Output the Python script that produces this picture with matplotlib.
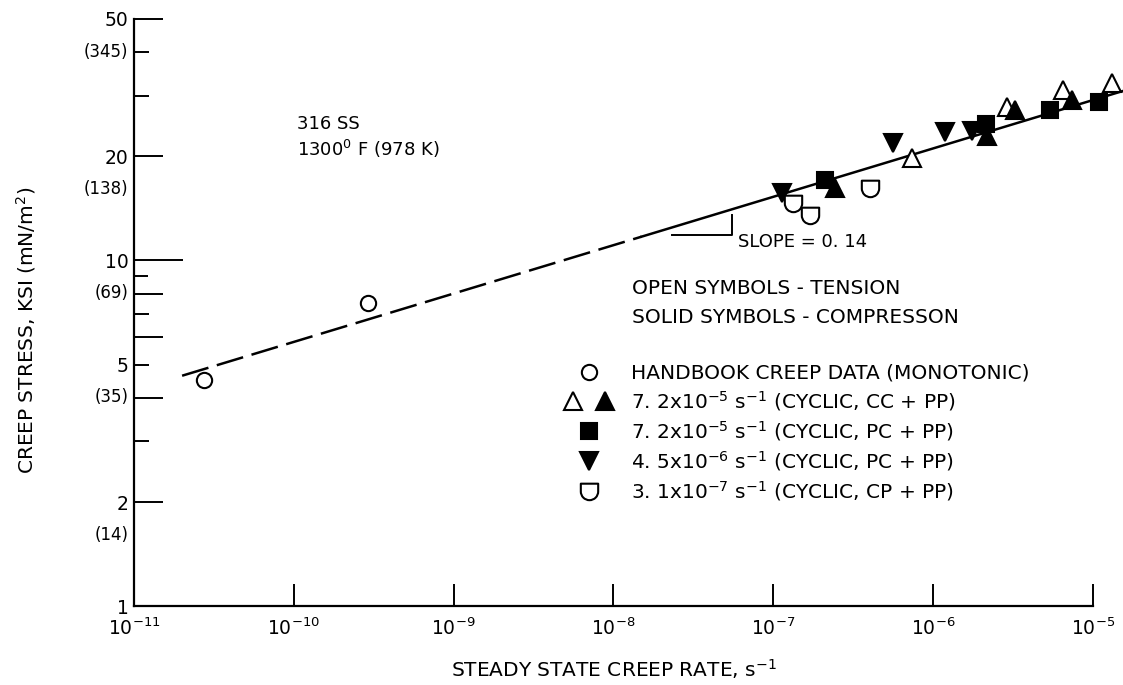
import numpy as np
import matplotlib
matplotlib.use('Agg')
import matplotlib.pyplot as plt
from matplotlib.path import Path
from matplotlib.legend_handler import HandlerTuple
from matplotlib.ticker import NullFormatter, NullLocator
from matplotlib.transforms import blended_transform_factory

# handbook creep data (monotonic), open circles
hb_rate = [2.74e-11, 2.9e-10]
hb_stress = [4.51, 7.53]

# 7.2e-5 s-1, CC + PP (open = tension, solid = compression)
cc_t_rate = [7.4e-7, 2.9e-6, 6.5e-6, 1.32e-5]
cc_t_stress = [19.8, 27.8, 31.2, 32.6]
cc_c_rate = [2.44e-7, 2.18e-6, 3.26e-6, 7.4e-6]
cc_c_stress = [16.2, 22.9, 27.3, 29.1]

# 7.2e-5 s-1, PC + PP
pc72_rate = [2.11e-7, 2.15e-6, 5.4e-6, 1.09e-5]
pc72_stress = [17.1, 24.8, 27.3, 28.8]

# 4.5e-6 s-1, PC + PP
pc45_rate = [1.13e-7, 5.6e-7, 1.19e-6, 1.75e-6]
pc45_stress = [15.7, 21.9, 23.5, 23.7]

# 3.1e-7 s-1, CP + PP
cp_rate = [1.33e-7, 1.70e-7, 4.04e-7]
cp_stress = [14.7, 13.5, 16.2]

# fitted line, stress = coef * rate^slope
fit_slope = 0.14
fit_coef = 146.0
fit_dash_rate = [2.0e-11, 1.5e-8]
fit_solid_rate = [1.5e-8, 1.55e-5]

# slope marker
slope_rate = [2.33e-8, 5.52e-8, 5.52e-8]
slope_stress = [11.85, 11.85, 13.5]

xticks = [1e-11, 1e-10, 1e-9, 1e-8, 1e-7, 1e-6, 1e-5]
yticks = [1, 2, 5, 10, 20, 50]
yticks_minor = [3, 4, 6, 7, 8, 9, 30, 40]
si_labels = ['(14)', '(35)', '(69)', '(138)', '(345)']
si_at = [2, 5, 10, 20, 50]

legend_labels = [
    'HANDBOOK CREEP DATA (MONOTONIC)',
    '7. 2x10$^{-5}$ s$^{-1}$ (CYCLIC, CC + PP)',
    '7. 2x10$^{-5}$ s$^{-1}$ (CYCLIC, PC + PP)',
    '4. 5x10$^{-6}$ s$^{-1}$ (CYCLIC, PC + PP)',
    '3. 1x10$^{-7}$ s$^{-1}$ (CYCLIC, CP + PP)',
]

# tick lengths in pixels, by tick value
ytick_len = {1: 0, 2: 29, 3: 15, 4: 29, 5: 15, 6: 29, 7: 15, 8: 29, 9: 14,
             10: 49, 20: 29, 30: 15, 40: 15, 50: 29}

# cup-shaped marker: flat top, straight sides, round bottom
arc = Path.arc(180, 360)
cup_verts = np.vstack([[-1, 0.9], arc.vertices, [1, 0.9], [-1, 0.9]])
cup_codes = [Path.MOVETO, Path.LINETO] + list(arc.codes[1:]) + [Path.LINETO, Path.CLOSEPOLY]
cup = Path(cup_verts, cup_codes)

plt.rcParams['font.family'] = ['DejaVu Sans']
plt.rcParams['mathtext.fontset'] = 'dejavusans'

fig = plt.figure(figsize=(11.23, 6.85), dpi=100)
ax = fig.add_axes([0.1193, 0.1153, 0.854, 0.857])
ax.set_xscale('log')
ax.set_yscale('log')
ax.set_xlim(1e-11, 1e-5)
ax.set_ylim(1, 50)
ax.spines[['top', 'right']].set_visible(False)
for s in ['left', 'bottom']:
    ax.spines[s].set_linewidth(1.6)

r = np.array(fit_dash_rate)
ax.plot(r, fit_coef * r ** fit_slope, color='k', lw=1.8, dashes=(11, 3.5),
        clip_on=False, zorder=2)
r = np.array(fit_solid_rate)
ax.plot(r, fit_coef * r ** fit_slope, color='k', lw=1.8, clip_on=False, zorder=2)
ax.plot(slope_rate, slope_stress, color='k', lw=1.4)

mk = dict(ls='none', mec='k', mew=1.5, clip_on=False, zorder=3)
h_hb, = ax.plot(hb_rate, hb_stress, marker='o', ms=11, mfc='white', **mk)
h_cct, = ax.plot(cc_t_rate, cc_t_stress, marker='^', ms=12.5, mfc='white', **mk)
h_ccc, = ax.plot(cc_c_rate, cc_c_stress, marker='^', ms=12.5, mfc='k', **mk)
h_pc72, = ax.plot(pc72_rate, pc72_stress, marker='s', ms=11, mfc='k', **mk)
h_pc45, = ax.plot(pc45_rate, pc45_stress, marker='v', ms=12.5, mfc='k', **mk)
h_cp, = ax.plot(cp_rate, cp_stress, marker=cup, ms=12.5, mfc='white', **mk)

ax.set_xticks(xticks)
ax.xaxis.set_minor_locator(NullLocator())
ax.set_yticks(yticks, labels=[str(v) for v in yticks])
ax.set_yticks(yticks_minor, minor=True)
ax.yaxis.set_minor_formatter(NullFormatter())
ax.tick_params(axis='both', which='both', direction='in', width=1.4,
               labelsize=13.5, colors='k')
ax.tick_params(axis='x', length=16, pad=8)
ax.tick_params(axis='y', pad=4)
for t, v in zip(ax.yaxis.get_major_ticks(), yticks):
    t.tick1line.set_markersize(ytick_len[v] * 0.72)
for t, v in zip(ax.yaxis.get_minor_ticks(), yticks_minor):
    t.tick1line.set_markersize(ytick_len[v] * 0.72)

trans = blended_transform_factory(ax.transAxes, ax.transData)
for v, s in zip(si_at, si_labels):
    ax.annotate(s, xy=(0, v), xycoords=trans, xytext=(-4, -23.5),
                textcoords='offset points', ha='right', va='center', fontsize=12)

ax.set_xlabel('STEADY STATE CREEP RATE, s$^{-1}$', fontsize=14.5, labelpad=13)
ax.set_ylabel('CREEP STRESS, KSI (mN/m$^2$)', fontsize=14.5)
ax.yaxis.set_label_coords(-0.100, 0.47)

ax.text(0.170, 0.821, '316 SS', transform=ax.transAxes, fontsize=13, va='center')
ax.text(0.170, 0.7785, '1300$^0$ F (978 K)', transform=ax.transAxes, fontsize=13,
        va='center')
ax.text(0.630, 0.620, 'SLOPE = 0. 14', transform=ax.transAxes, fontsize=13, va='center')
ax.text(0.5193, 0.5417, 'OPEN SYMBOLS - TENSION', transform=ax.transAxes,
        fontsize=14.5, va='center')
ax.text(0.5193, 0.4923, 'SOLID SYMBOLS - COMPRESSON', transform=ax.transAxes,
        fontsize=14.5, va='center')

handles = [h_hb, (h_cct, h_ccc), h_pc72, h_pc45, h_cp]
ax.legend(handles, legend_labels,
          handler_map={tuple: HandlerTuple(ndivide=None, pad=0.95)},
          loc='upper left', bbox_to_anchor=(0.4505, 0.4123), frameon=False,
          fontsize=14.5, handlelength=2.25, handletextpad=1.0, labelspacing=0.3,
          borderpad=0, borderaxespad=0, numpoints=1)

fig.savefig('out.png', dpi=100, facecolor='white')
